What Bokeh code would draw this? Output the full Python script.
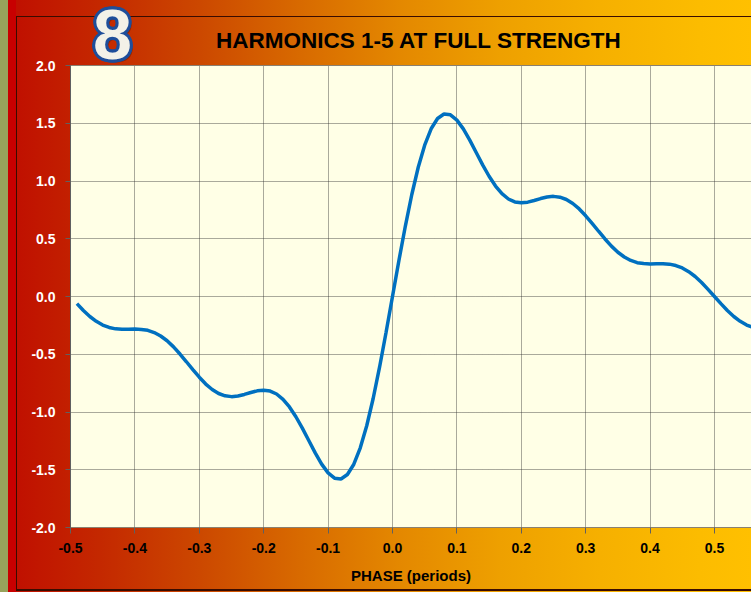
import math
from bokeh.plotting import figure
from bokeh.layouts import column
from bokeh.models import FixedTicker, PrintfTickFormatter, LinearAxis, Range1d
from bokeh.core.properties import value
from bokeh.embed import file_html
from bokeh.resources import INLINE

# ---------------- data ----------------
PHASE = [-0.49, -0.48, -0.47, -0.46, -0.45, -0.44, -0.43, -0.42, -0.41, -0.40,
         -0.39, -0.38, -0.37, -0.36, -0.35, -0.34, -0.33, -0.32, -0.31, -0.30,
         -0.29, -0.28, -0.27, -0.26, -0.25, -0.24, -0.23, -0.22, -0.21, -0.20,
         -0.19, -0.18, -0.17, -0.16, -0.15, -0.14, -0.13, -0.12, -0.11, -0.10,
         -0.09, -0.08, -0.07, -0.06, -0.05, -0.04, -0.03, -0.02, -0.01,
         0.00,
         0.01, 0.02, 0.03, 0.04, 0.05, 0.06, 0.07, 0.08, 0.09, 0.10,
         0.11, 0.12, 0.13, 0.14, 0.15, 0.16, 0.17, 0.18, 0.19, 0.20,
         0.21, 0.22, 0.23, 0.24, 0.25, 0.26, 0.27, 0.28, 0.29, 0.30,
         0.31, 0.32, 0.33, 0.34, 0.35, 0.36, 0.37, 0.38, 0.39, 0.40,
         0.41, 0.42, 0.43, 0.44, 0.45, 0.46, 0.47, 0.48, 0.49, 0.50,
         0.51, 0.52, 0.53, 0.54, 0.55, 0.56, 0.57]

WAVE = [-0.062, -0.121, -0.173, -0.215, -0.247, -0.268, -0.280, -0.284, -0.283, -0.282,
        -0.285, -0.293, -0.312, -0.342, -0.383, -0.436, -0.498, -0.565, -0.633, -0.699,
        -0.758, -0.805, -0.840, -0.860, -0.867, -0.861, -0.848, -0.831, -0.817, -0.811,
        -0.819, -0.844, -0.890, -0.956, -1.041, -1.140, -1.247, -1.354, -1.451, -1.527,
        -1.573, -1.580, -1.541, -1.452, -1.310, -1.119, -0.883, -0.610, -0.312,
        0.000,
        0.312, 0.610, 0.883, 1.119, 1.310, 1.452, 1.541, 1.580, 1.573, 1.527,
        1.451, 1.354, 1.247, 1.140, 1.041, 0.956, 0.890, 0.844, 0.819, 0.811,
        0.817, 0.831, 0.848, 0.861, 0.867, 0.860, 0.840, 0.805, 0.758, 0.699,
        0.633, 0.565, 0.498, 0.436, 0.383, 0.342, 0.312, 0.293, 0.285, 0.282,
        0.283, 0.284, 0.280, 0.268, 0.247, 0.215, 0.173, 0.121, 0.062, 0.000,
        -0.062, -0.121, -0.173, -0.215, -0.247, -0.268, -0.280]

X_TICKS = [-0.5, -0.4, -0.3, -0.2, -0.1, 0.0, 0.1, 0.2, 0.3, 0.4, 0.5]
Y_TICKS = [-2.0, -1.5, -1.0, -0.5, 0.0, 0.5, 1.0, 1.5, 2.0]

TITLE = "HARMONICS 1-5 AT FULL STRENGTH"
BADGE = "8"
X_LABEL = "PHASE (periods)"

# ---------------- layout ----------------
W, H = 751, 592
L, T, B = 70, 65, 65
HEAD_H = 80
FONT = "Liberation Sans"

GRAD = ("linear-gradient(to right, #97a35c 0px, #97a35c 8px, #c80000 8px, #c80000 16px, "
        "#c01000 16px, #c42800 100px, #cc4800 200px, #d86a00 300px, #e48800 400px, "
        "#eea000 500px, #f6b000 600px, #fcbc00 700px, #ffc000 751px)")
LINE = "linear-gradient(#3a0c00,#3a0c00)"
MAIN_BG = (f"{LINE} 16px 16px / 1px 574px no-repeat, "
           f"{LINE} 16px 16px / 735px 1px no-repeat, "
           f"{LINE} 16px 589px / 735px 2px no-repeat, " + GRAD)

# ---------------- main chart ----------------
X0, X1 = -0.5, 0.5575
p = figure(width=W, height=H, x_range=(X0, X1), y_range=(-2.0, 2.0),
           output_backend="svg", toolbar_location=None,
           min_border_left=L, min_border_right=0, min_border_top=T, min_border_bottom=B,
           background_fill_color="#FFFFE6", border_fill_alpha=0,
           outline_line_color=None, styles={"background": MAIN_BG})

xt = FixedTicker(ticks=X_TICKS)
yt = FixedTicker(ticks=Y_TICKS)
p.xaxis.ticker = xt
p.yaxis.ticker = yt
p.xgrid.ticker = xt
p.ygrid.ticker = yt
p.xaxis.formatter = PrintfTickFormatter(format="%.1f")
p.yaxis.formatter = PrintfTickFormatter(format="%.1f")

for g in (p.xgrid, p.ygrid):
    g.grid_line_color = "#2a2a2a"
    g.grid_line_dash = "1 1"
    g.grid_line_alpha = 0.8
    g.grid_line_width = 1

ax = p.xaxis[0]
ax.axis_line_color = "#8a8070"
ax.major_tick_line_color = "#606060"
ax.major_tick_out = 6
ax.major_tick_in = 0
ax.minor_tick_line_color = None
ax.major_label_text_font = FONT
ax.major_label_text_font_style = "bold"
ax.major_label_text_font_size = "14px"
ax.major_label_text_color = "black"
ax.major_label_standoff = 9
ax.axis_label = X_LABEL
ax.axis_label_text_font = FONT
ax.axis_label_text_font_style = "bold"
ax.axis_label_text_font_size = "15px"
ax.axis_label_text_color = "black"
ax.axis_label_standoff = 11

ay = p.yaxis[0]
ay.axis_line_color = "#606060"
ay.major_tick_line_color = "#606060"
ay.major_tick_out = 5
ay.major_tick_in = 0
ay.minor_tick_line_color = None
ay.major_label_text_font = FONT
ay.major_label_text_font_style = "bold"
ay.major_label_text_font_size = "14px"
ay.major_label_text_color = "white"
ay.major_label_standoff = 10

top = LinearAxis(ticker=FixedTicker(ticks=[]), major_label_text_font_size="0px",
                 major_tick_out=0, major_tick_in=0, minor_tick_out=0, minor_tick_in=0,
                 axis_line_color="#8a8070")
p.add_layout(top, "above")

p.line(PHASE, WAVE, line_color="#0070C0", line_width=3.5)

# ---------------- header overlay (title + badge), drawn over the chart's top band ----------------
# the column aligns this frame with the chart frame horizontally (x from L to W)
head = figure(width=W, height=HEAD_H, x_range=Range1d(L, W), y_range=Range1d(HEAD_H, 0),
              output_backend="svg", toolbar_location=None,
              x_axis_location=None, y_axis_location=None,
              min_border=0, min_border_left=L, background_fill_alpha=0, border_fill_alpha=0,
              outline_line_color=None, styles={"margin-top": f"-{H}px"})
head.xgrid.visible = False
head.ygrid.visible = False

head.text(x=[418.5], y=[40], text=[TITLE], text_font=value(FONT),
          text_font_style="bold", text_font_size="22.5px", text_color="black",
          text_align="center", text_baseline="middle")

BX, BY = 112, 34
head.text(x=[BX], y=[BY], text=[BADGE], x_offset=3, y_offset=3,
          text_font=value(FONT), text_font_style="bold", text_font_size="70px",
          text_color="#5a1a00", text_alpha=0.45, text_align="center", text_baseline="middle")
for i in range(16):
    a = 2 * math.pi * i / 16
    head.text(x=[BX], y=[BY], text=[BADGE], x_offset=3 * math.cos(a), y_offset=3 * math.sin(a),
              text_font=value(FONT), text_font_style="bold", text_font_size="70px",
              text_color="#1f4e9a", text_align="center", text_baseline="middle")
head.text(x=[BX], y=[BY], text=[BADGE], text_font=value(FONT), text_font_style="bold",
          text_font_size="70px", text_color="#f3f1e8", text_align="center", text_baseline="middle")

layout = column(p, head, spacing=0)

open("out.html", "w").write(file_html(layout, INLINE))
